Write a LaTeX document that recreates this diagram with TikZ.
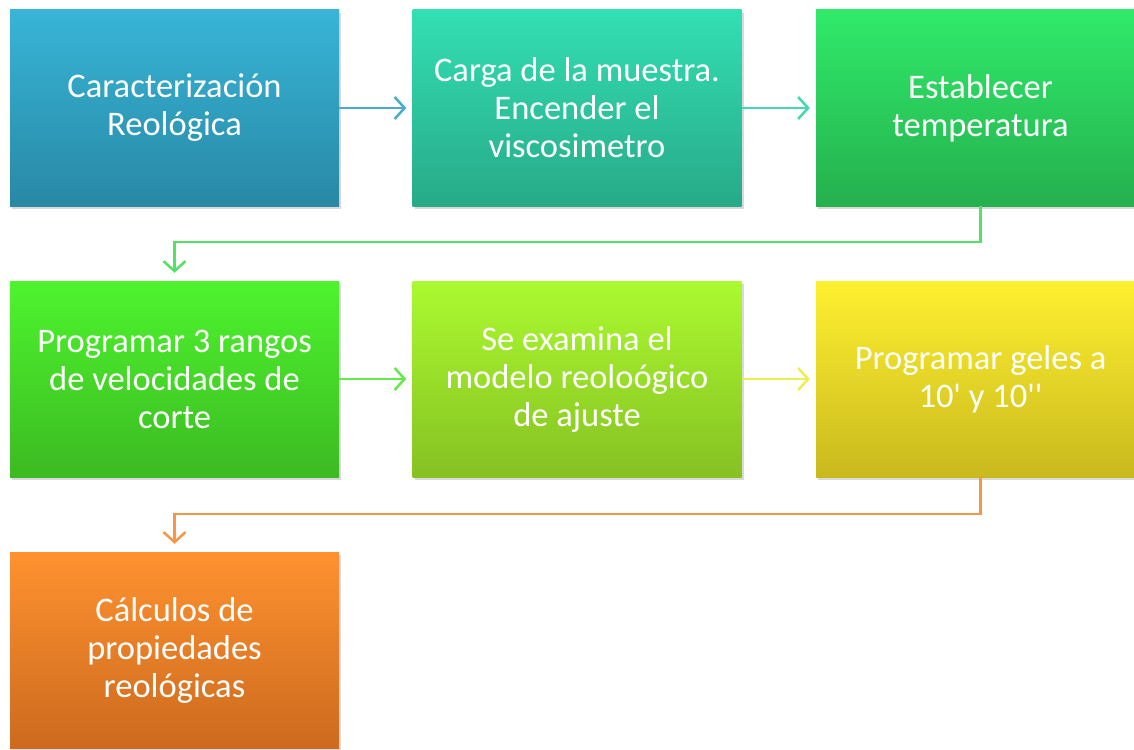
\documentclass[tikz,border=0pt]{standalone}
\usepackage{fontspec}
\newfontfamily\boxfont{Carlito}
\usetikzlibrary{arrows.meta,shadows}
\definecolor{c1t}{HTML}{38B5D7}\definecolor{c1b}{HTML}{2888A5}
\definecolor{c2t}{HTML}{33DFB3}\definecolor{c2b}{HTML}{27AA88}
\definecolor{c3t}{HTML}{30EA6A}\definecolor{c3b}{HTML}{25B04E}
\definecolor{c4t}{HTML}{4EF42E}\definecolor{c4b}{HTML}{3CBA22}
\definecolor{c5t}{HTML}{ABFA30}\definecolor{c5b}{HTML}{86C122}
\definecolor{c6t}{HTML}{FFF030}\definecolor{c6b}{HTML}{C9B91E}
\definecolor{c7t}{HTML}{FF9230}\definecolor{c7b}{HTML}{CC6A1E}
\definecolor{a1}{HTML}{48ACCE}
\definecolor{a2}{HTML}{40D9B0}
\definecolor{a3}{HTML}{55E066}
\definecolor{a4}{HTML}{62EC4A}
\definecolor{a5}{HTML}{EEEE50}
\definecolor{a6}{HTML}{F79646}
\tikzset{
  stepbox/.style={rectangle, minimum width=329pt, minimum height=196pt, inner sep=0pt,
    text=white, align=center, font=\boxfont\fontsize{34.5}{38}\selectfont,
    drop shadow={shadow xshift=2pt, shadow yshift=-3pt, opacity=0.15, fill=black}},
  conn/.style={line width=2.5pt, -{Straight Barb[length=10pt,width=22pt,line width=2.5pt]}, shorten >=6pt}
}
\begin{document}
\begin{tikzpicture}[x=1pt,y=-1pt]
\useasboundingbox (0,0) rectangle (1134,749);
\node[stepbox, top color=c1t, bottom color=c1b] (b1) at (174.5,108) {Caracterización\\Reológica};
\node[stepbox, top color=c2t, bottom color=c2b] (b2) at (577,108) {Carga de la muestra.\\Encender el\\viscosimetro};
\node[stepbox, top color=c3t, bottom color=c3b] (b3) at (980.5,108) {Establecer\\temperatura};
\node[stepbox, top color=c4t, bottom color=c4b] (b4) at (174.5,379) {Programar 3 rangos\\de velocidades de\\corte};
\node[stepbox, top color=c5t, bottom color=c5b] (b5) at (577,379) {Se examina el\\modelo reoloógico\\de ajuste};
\node[stepbox, top color=c6t, bottom color=c6b] (b6) at (980.5,379) {Programar geles a\\10' y 10''};
\node[stepbox, top color=c7t, bottom color=c7b] (b7) at (174.5,650) {Cálculos de\\propiedades\\reológicas};
\draw[conn, a1] (b1) -- (b2);
\draw[conn, a2] (b2) -- (b3);
\draw[conn, a3, shorten >=8pt] (b3.south) -- ++(0,36) -| (b4.north);
\draw[conn, a4] (b4) -- (b5);
\draw[conn, a5] (b5) -- (b6);
\draw[conn, a6, shorten >=8pt] (b6.south) -- ++(0,37) -| (b7.north);
\end{tikzpicture}
\end{document}
